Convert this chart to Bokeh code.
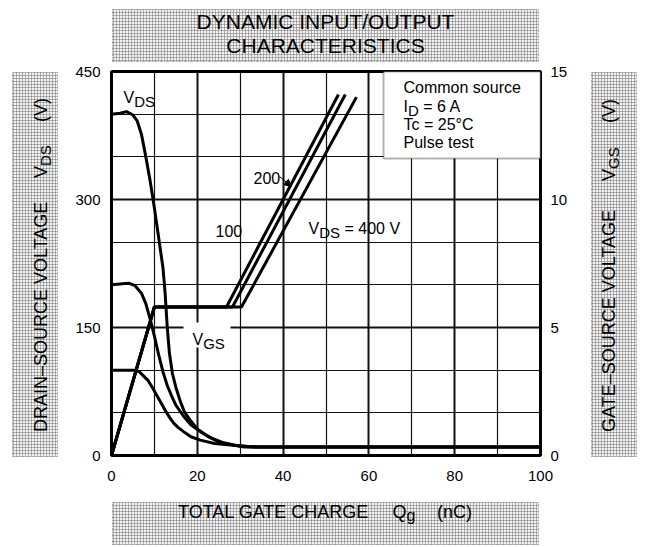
from bokeh.plotting import figure
from bokeh.models import (Range1d, LinearAxis, FixedTicker, Label, BoxAnnotation,
                          Arrow, NormalHead, Div)
from bokeh.layouts import column, row
from bokeh.embed import file_html
from bokeh.resources import INLINE

# ---------------- data ----------------
x_ticks = [0, 20, 40, 60, 80, 100]
x_minor = [10, 30, 50, 70, 90]
vds_ticks = [0, 150, 300, 450]
vds_minor = [50, 100, 200, 250, 350, 400]
vgs_ticks = [0, 5, 10, 15]

# drain-source voltage curves (left axis, V) vs gate charge (nC)
q_vds400 = [0, 2, 3.5, 5, 6, 7, 8, 9, 10, 11, 12, 12.5, 13, 13.5, 14.2, 15, 16, 17, 18.4, 20, 22.3, 25, 28.5, 31, 100]
v_vds400 = [400, 401, 403, 399, 392, 376, 350, 322, 290, 255, 220, 190, 150, 120, 96, 80, 64, 51, 41, 31, 23, 16, 12, 10, 10]

q_vds200 = [0, 2, 4, 5.5, 7, 8, 9, 10, 11, 12, 13, 14, 15, 16.8, 18.5, 20.7, 23, 26, 30, 33, 100]
v_vds200 = [200, 201, 202, 199, 190, 178, 160, 140, 118, 98, 82, 70, 59, 46, 36, 28, 21, 15, 11, 10, 10]

q_vds100 = [0, 5.5, 6.5, 7.5, 8.5, 9.5, 10.5, 11.5, 12.5, 13.5, 14.5, 15.5, 16.8, 18.5, 20.7, 24, 28.4, 32, 35, 100]
v_vds100 = [100, 100, 98, 93, 88, 80, 71, 62, 53, 45, 38, 33, 28, 22, 18, 14, 12, 10.5, 10, 10]

# gate-source voltage curves (right axis, V)
q_vgs100 = [0, 10, 26.8, 52.9]
v_vgs100 = [0, 5.8, 5.8, 14.1]
q_vgs200 = [0, 10, 28.2, 54.5]
v_vgs200 = [0, 5.8, 5.8, 14.1]
q_vgs400 = [0, 10, 30.3, 57.1]
v_vgs400 = [0, 5.8, 5.8, 14.0]

# ---------------- layout (page pixels, page has no margin) ----------------
FONT = "Liberation Sans"
FL, FR, FT, FB = 111, 540, 71, 455          # plot frame on the page
FIG_X, FIG_Y, FIG_W, FIG_H = 70, 63, 514, 427
TOP_H, LEFT_W, RIGHT_W, BOT_H = 63, 70, 61, 55


def X(px):
    return (px - FL) * 100.0 / (FR - FL)


def Y(py):
    return (FB - py) * 450.0 / (FB - FT)


CW = {' ': 278, '=': 584, '°': 400, '(': 333, ')': 333, '–': 556, '/': 278,
      'A': 667, 'C': 722, 'D': 722, 'E': 667, 'G': 778, 'H': 722, 'I': 278, 'L': 556,
      'M': 833, 'N': 722, 'O': 778, 'P': 667, 'Q': 778, 'R': 722, 'S': 667, 'T': 611,
      'U': 722, 'V': 667, 'Y': 667, 'c': 500, 'e': 556, 'g': 556, 'l': 222, 'm': 833,
      'n': 556, 'o': 556, 'r': 333, 's': 500, 't': 278, 'u': 556}


def tw(s, size):
    return sum(CW.get(c, 556) for c in s) / 1000.0 * size


p = figure(width=FIG_W, height=FIG_H, x_range=Range1d(0, 100), y_range=Range1d(0, 450),
           output_backend="svg", toolbar_location=None,
           min_border_left=FL - FIG_X, min_border_right=FIG_X + FIG_W - FR,
           min_border_top=FT - FIG_Y, min_border_bottom=FIG_Y + FIG_H - FB)
p.extra_y_ranges = {"vgs": Range1d(0, 15)}
p.background_fill_color = "white"
p.border_fill_color = "white"
p.outline_line_color = "black"
p.outline_line_width = 3

p.xaxis.ticker = FixedTicker(ticks=x_ticks, minor_ticks=x_minor)
p.yaxis.ticker = FixedTicker(ticks=vds_ticks, minor_ticks=vds_minor)
raxis = LinearAxis(y_range_name="vgs", ticker=FixedTicker(ticks=vgs_ticks))
p.add_layout(raxis, "right")

for ax in [p.xaxis[0], p.yaxis[0], raxis]:
    ax.axis_line_color = None
    ax.major_tick_line_color = None
    ax.minor_tick_line_color = None
    ax.major_label_text_font = FONT
    ax.major_label_text_font_size = "15px"
    ax.major_label_text_color = "black"
p.xaxis[0].major_label_standoff = 9
p.yaxis[0].major_label_standoff = 5
raxis.major_label_standoff = 4

for g in [p.xgrid[0], p.ygrid[0]]:
    g.grid_line_color = "#111111"
    g.grid_line_width = 2
    g.minor_grid_line_color = "#111111"
    g.minor_grid_line_width = 1.2

LW = 3
p.line(q_vds400, v_vds400, line_color="black", line_width=LW)
p.line(q_vds200, v_vds200, line_color="black", line_width=LW)
p.line(q_vds100, v_vds100, line_color="black", line_width=LW)
p.line(q_vgs100, v_vgs100, line_color="black", line_width=LW, y_range_name="vgs")
p.line(q_vgs200, v_vgs200, line_color="black", line_width=LW, y_range_name="vgs")
p.line(q_vgs400, v_vgs400, line_color="black", line_width=LW, y_range_name="vgs")


def put(text, px, py, size):
    p.add_layout(Label(x=X(px), y=Y(py), text=text, text_font=FONT,
                       text_font_size=f"{size}px", text_color="black",
                       text_align="left", text_baseline="alphabetic"))


# condition box
p.add_layout(BoxAnnotation(left=X(383), right=100, top=450, bottom=Y(158),
                           fill_color="white", fill_alpha=1,
                           line_color="black", line_width=2))
put("Common source", 403, 87, 16)
put("I", 403, 105.5, 16)
put("D", 403 + tw("I", 16), 109.5, 15)
put("= 6 A", 403 + tw("I", 16) + tw("D", 15) + tw(" ", 16), 105.5, 16)
put("Tc = 25°C", 403, 123.5, 16)
put("Pulse test", 403, 142, 16)

# curve labels
put("V", 123, 97, 16)
put("DS", 123 + tw("V", 16), 101, 15)

put("200", 253, 177, 16)
p.add_layout(Arrow(end=NormalHead(size=7, fill_color="black", line_color="black"),
                   x_start=X(279), y_start=Y(176), x_end=X(291), y_end=Y(186),
                   line_color="black", line_width=1))
put("100", 215, 230, 16)

put("V", 308, 228, 16)
put("DS", 308 + tw("V", 16), 232, 15)
put("= 400 V", 308 + tw("V", 16) + tw("DS", 15) + tw(" ", 16), 228, 16)

p.add_layout(BoxAnnotation(left=X(183), right=X(230), top=Y(322), bottom=Y(347),
                           fill_color="white", fill_alpha=1, line_color=None))
put("V", 192, 339, 16)
put("GS", 192 + tw("V", 16), 342.5, 15)

# ---------------- hatched caption panels (HTML) ----------------
HATCH = ("background-color:#f3f3f3;"
         "background-image:linear-gradient(90deg, rgba(110,110,110,0.5) 1px, transparent 1px),"
         "linear-gradient(0deg, rgba(110,110,110,0.5) 1px, transparent 1px);"
         "background-size:3px 3px;border:1px dotted #b0b0b0;box-sizing:border-box;")


def box(left, top, w, h):
    return (f'<div style="position:absolute;left:{left}px;top:{top}px;width:{w}px;'
            f'height:{h}px;{HATCH}"></div>')


def span(text, left, baseline, size, rotate=False):
    top = baseline - 0.8465 * size
    style = (f"position:absolute;white-space:nowrap;line-height:1;font-family:'{FONT}';"
             f"font-size:{size}px;color:black;")
    if rotate:
        # text runs upward; 'left' is the baseline x, 'baseline' is the start (bottom) y
        style += (f"left:{left - 0.8465 * size:.2f}px;top:{baseline:.2f}px;"
                  "transform:rotate(-90deg);transform-origin:0 0;")
    else:
        style += f"left:{left:.2f}px;top:{top:.2f}px;"
    return f'<span style="{style}">{text}</span>'


def panel(w, h, inner):
    return Div(text=f'<div style="position:relative;width:{w}px;height:{h}px;">{inner}</div>',
               width=w, height=h, margin=0)


# title panel (page y 0..63)
title_inner = box(112, 9, 427, 53)
title_inner += (f'<div style="position:absolute;left:112px;top:{28.5 - 0.8465 * 21:.2f}px;'
                f"width:427px;text-align:center;line-height:24px;font-family:'{FONT}';"
                f'font-size:21px;color:black;">'
                f'<div style="line-height:1;">DYNAMIC INPUT/OUTPUT</div>'
                f'<div style="line-height:1;margin-top:{24 - 21}px;">CHARACTERISTICS</div></div>')
title_div = panel(647, TOP_H, title_inner)

# left panel (page x 0..70, y 63..490)
oy = FIG_Y
left_inner = box(12, 72 - oy, 46, 385)
left_inner += span("DRAIN–SOURCE VOLTAGE", 47, 432 - oy, 18, True)
left_inner += span("V", 47, 178 - oy, 18, True)
left_inner += span("DS", 51, 178 - tw("V", 18) - oy, 15, True)
left_inner += span("(V)", 47, 122 - oy, 18, True)
left_div = panel(LEFT_W, FIG_H, left_inner)

# right panel (page x 584..645)
ox = FIG_X + FIG_W
right_inner = box(591 - ox, 72 - oy, 46, 385)
right_inner += span("GATE–SOURCE VOLTAGE", 615 - ox, 432 - oy, 18, True)
right_inner += span("V", 615 - ox, 181 - oy, 18, True)
right_inner += span("GS", 619 - ox, 181 - tw("V", 18) - oy, 15, True)
right_inner += span("(V)", 615 - ox, 123 - oy, 18, True)
right_div = panel(RIGHT_W, FIG_H, right_inner)

# bottom panel (page y 490..545)
by = FIG_Y + FIG_H
bot_inner = box(112, 502 - by, 427, 43)
bot_inner += span("TOTAL GATE CHARGE", 178, 518 - by, 18)
bot_inner += span("Q", 392.5, 518 - by, 18)
bot_inner += span("g", 392.5 + tw("Q", 18), 522 - by, 16)
bot_inner += span("(nC)", 437, 518 - by, 18)
bot_div = panel(647, BOT_H, bot_inner)

layout = column(title_div, row(left_div, p, right_div), bot_div)

open("out.html", "w").write(file_html(layout, INLINE))
